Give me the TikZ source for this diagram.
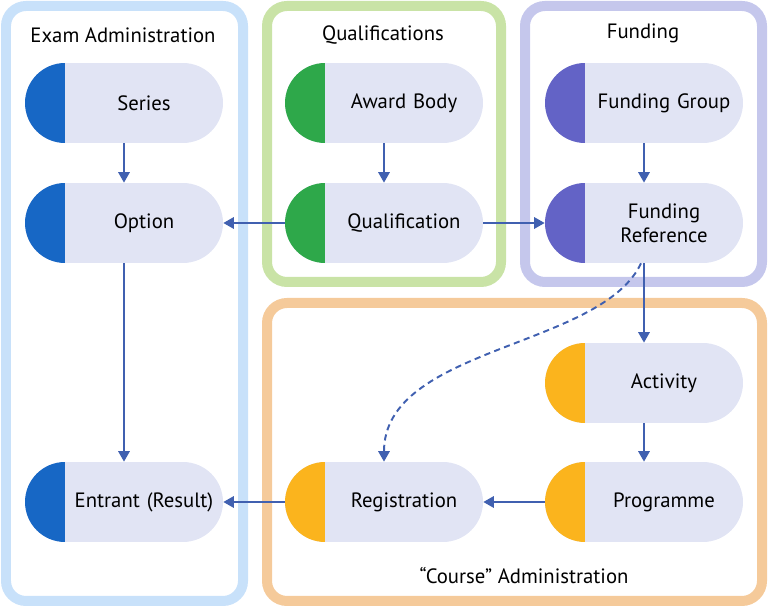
\documentclass[tikz,border=0pt]{standalone}
\usepackage{fontspec}
\setmainfont{PT Sans}
\usetikzlibrary{arrows.meta}

\definecolor{examframe}{HTML}{C8E1FA}
\definecolor{qualframe}{HTML}{C9E3A6}
\definecolor{fundframe}{HTML}{C5C7EC}
\definecolor{courseframe}{HTML}{F5CA9A}
\definecolor{pillbody}{HTML}{E1E4F4}
\definecolor{exambl}{HTML}{1767C5}
\definecolor{qualgr}{HTML}{2EA84A}
\definecolor{fundpu}{HTML}{6363C6}
\definecolor{courseye}{HTML}{FBB41D}
\definecolor{linkc}{HTML}{4060B0}

\tikzset{
	pill/.style={rectangle, rounded corners=0.8cm, fill=pillbody, minimum width=3.96cm, minimum height=1.6cm, inner sep=0pt,
		text width=3.96cm, font=\fontsize{11.8}{13.5}\selectfont,
		execute at begin node={\parindent=0pt\leftskip=0.8cm plus 1fil\rightskip=0pt plus 1fil\parfillskip=0pt},
		path picture={\fill[#1, sharp corners] (path picture bounding box.south west) rectangle ([xshift=0.8cm]path picture bounding box.north west);}},
	frame/.style={draw=#1, line width=0.2cm, rounded corners=0.4cm},
	title/.style={font=\fontsize{11.8}{13.5}\selectfont, inner sep=0pt},
	link/.style={draw=linkc, line width=1.1pt, -{Triangle[length=6pt,width=6.5pt]}}
}

\begin{document}
\begin{tikzpicture}[x=0.02cm, y=-0.02cm]
		\useasboundingbox (0,0) rectangle (768,607);
		% groups
		\draw[frame=examframe] (6,6) rectangle (243,601);
		\draw[frame=qualframe] (267,6) rectangle (501,282);
		\draw[frame=fundframe] (525,6) rectangle (762,282);
		\draw[frame=courseframe] (267,303) rectangle (762,601);
		\node[title] (examt) at (123,35) {Exam Administration};
		\node[title] (qualt) at (383,35) {Qualifications};
		\node[title] (fundt) at (643,33) {Funding};
		\node[title] (courset) at (524,576) {“Course” Administration};
		% entities
		\node[pill=exambl] (series) at (124,103) {Series};
		\node[pill=exambl] (option) at (124,223) {Option};
		\node[pill=exambl] (entrant) at (124,502) {Entrant (Result)};
		\node[pill=qualgr] (awardbody) at (384,103) {Award Body};
		\node[pill=qualgr] (qualification) at (384,223) {Qualification};
		\node[pill=fundpu] (fundgroup) at (644,103) {Funding Group};
		\node[pill=fundpu] (fundref) at (644,223) {Funding\\Reference};
		\node[pill=courseye] (activity) at (644,383) {Activity};
		\node[pill=courseye] (programme) at (644,502) {Programme};
		\node[pill=courseye] (registration) at (384,502) {Registration};
		% links
		\draw[link] (series) -- (option);
		\draw[link] (option) -- (entrant);
		\draw[link] (awardbody) -- (qualification);
		\draw[link] (qualification) -- (option);
		\draw[link] (qualification) -- (fundref);
		\draw[link] (fundgroup) -- (fundref);
		\draw[link] (fundref) -- (activity);
		\draw[link] (activity) -- (programme);
		\draw[link] (programme) -- (registration);
		\draw[link] (registration) -- (entrant);
		\draw[link, dash pattern=on 3.5pt off 2.5pt] ([xshift=-0.06cm]fundref.south) .. controls +(-40,85) and +(0,-115) .. (registration.north);
	\end{tikzpicture}
\end{document}
